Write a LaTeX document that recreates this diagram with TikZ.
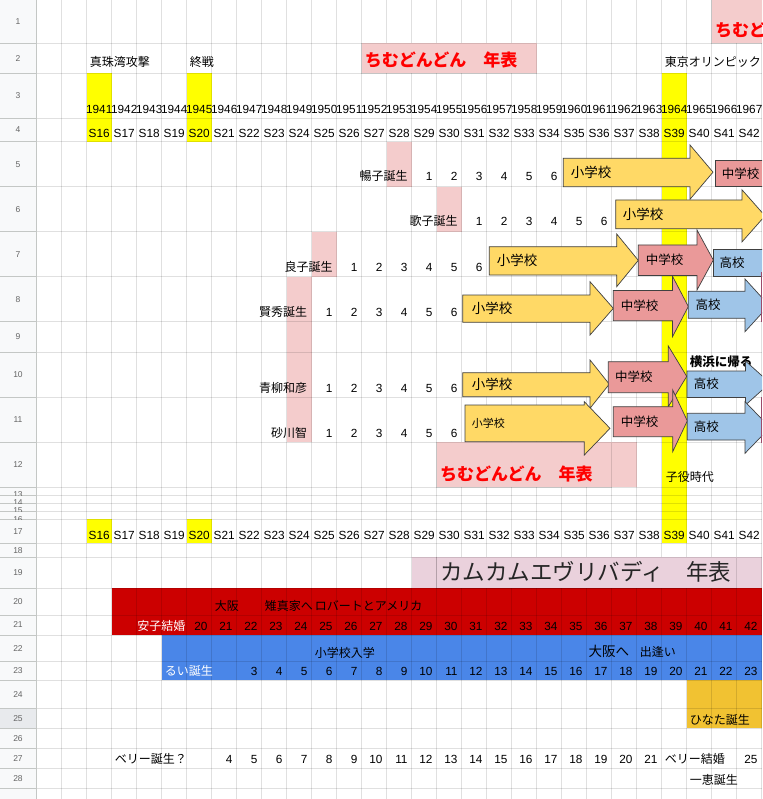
\documentclass[tikz,border=0pt]{standalone}
\usepackage{fontspec}
\setmainfont{Liberation Sans}
\newfontfamily\jp{Noto Sans CJK JP}
\definecolor{hdrbg}{HTML}{F8F9FA}
\definecolor{hdrsel}{HTML}{E8EAED}
\definecolor{hdrline}{HTML}{C4C7C5}
\definecolor{hdrtxt}{HTML}{666666}
\definecolor{yel}{HTML}{FFFF00}
\definecolor{pinkc}{HTML}{F4CCCC}
\definecolor{redt}{HTML}{FF0000}
\definecolor{ayel}{HTML}{FFD966}
\definecolor{apink}{HTML}{EA9999}
\definecolor{ablue}{HTML}{9FC5E8}
\definecolor{mauve}{HTML}{EAD1DC}
\definecolor{redband}{HTML}{CC0000}
\definecolor{blueband}{HTML}{4A86E8}
\definecolor{gold}{HTML}{F1C232}
\definecolor{aborder}{HTML}{404040}
\definecolor{edgec}{HTML}{9C4A6A}
\definecolor{bigtxt}{HTML}{262626}
\newcommand\yx[1]{(86.7+25*((#1)-1941))}
\tikzset{
  numtxt/.style={inner sep=0pt, font=\fontsize{11.8}{13}\selectfont},
  jtxt/.style={inner sep=0pt, font=\jp\fontsize{12}{14}\selectfont},
  redtitle/.style={inner sep=0pt, text=redt, font=\jp\bfseries\fontsize{17}{19}\selectfont},
  gridl/.style={draw=black, draw opacity=0.12, line width=0.8pt},
  arrowline/.style={draw=aborder, line width=0.7pt, line join=miter},
  arrtxt/.style={inner sep=0pt, anchor=west, font=\jp\fontsize{12.5}{14}\selectfont},
  arrtxtb/.style={inner sep=0pt, anchor=west, font=\jp\fontsize{13.5}{15}\selectfont},
}
\newcommand\cellR[3]{\node[numtxt, anchor=base east] at ({\yx{#1}+21},#2) {#3};}
\newcommand\cellC[3]{\node[numtxt, anchor=base] at ({\yx{#1}+12.5},#2) {#3};}
% x0, head base, tip, body top, body bottom, head top, head bottom, colour
\newcommand\sarrow[8]{\path[arrowline, fill=#8] (#1,#4) -- (#2,#4) -- (#2,#6) -- (#3,{(#6+#7)/2}) -- (#2,#7) -- (#2,#5) -- (#1,#5) -- cycle;}
\begin{document}
\begin{tikzpicture}[x=1pt,y=-1pt]
\useasboundingbox (0,0) rectangle (762,799);
\clip (0,0) rectangle (762,799);
\fill[white] (0,0) rectangle (762,799);
% ---- cell fills
\fill[yel] ({\yx{1941}},73.3) rectangle ({\yx{1941}+25},141.7);
\fill[yel] ({\yx{1945}},73.3) rectangle ({\yx{1945}+25},141.7);
\fill[yel] ({\yx{1964}},73.3) rectangle ({\yx{1964}+25},543.3);
\fill[yel] ({\yx{1941}},519.3) rectangle ({\yx{1941}+25},543.3);
\fill[yel] ({\yx{1945}},519.3) rectangle ({\yx{1945}+25},543.3);
\fill[pinkc] ({\yx{1953}},141.7) rectangle ({\yx{1953}+25},186.7);
\fill[pinkc] ({\yx{1955}},186.7) rectangle ({\yx{1955}+25},231.7);
\fill[pinkc] ({\yx{1950}},231.7) rectangle ({\yx{1950}+25},276.7);
\fill[pinkc] ({\yx{1949}},276.7) rectangle ({\yx{1949}+25},442.3);
\fill[pinkc] (436.7,442.3) rectangle (636.7,487.3);
\fill[mauve] (411.7,557.3) rectangle (762,588.3);
\fill[redband] (111.7,588.3) rectangle (762,635);
\fill[blueband] (161.7,635) rectangle (762,680);
\fill[gold] (686.7,680) rectangle (762,728.3);
% ---- grid
\foreach \k in {1,...,29} \draw[gridl] ({36.7+25*\k},0) -- ({36.7+25*\k},799);
\foreach \y in {43.3,73.3,118.3,141.7,186.7,231.7,276.7,321.7,352.3,397.3,442.3,487.3,495.5,503.5,511.5,519.3,543.3,557.3,588.3,615,635,661.7,680,708.3,728.3,748.3,768.3,788.3}
  \draw[gridl] (36.5,\y) -- (762,\y);
% ---- merged cells
\path[fill=pinkc, gridl] (711.7,-2) rectangle (800,43.3);
\path[fill=pinkc, gridl] (361.7,43.3) rectangle (536.7,73.3);
\path[fill=pinkc, gridl] (436.7,442.3) rectangle (611.7,487.3);
\path[fill=mauve, gridl] (436.7,557.3) rectangle (736.7,588.3);
% ---- row header
\fill[hdrbg] (0,0) rectangle (36.3,799);
\fill[hdrsel] (0,708.3) rectangle (36.3,728.3);
\foreach \y in {43.3,73.3,118.3,141.7,186.7,231.7,276.7,321.7,352.3,397.3,442.3,487.3,495.5,503.5,511.5,519.3,543.3,557.3,588.3,615,635,661.7,680,708.3,728.3,748.3,768.3,788.3}
  \draw[hdrline, line width=0.8pt] (0,\y) -- (36.3,\y);
\draw[hdrline, line width=0.9pt] (36.3,0) -- (36.3,799);
\foreach \t/\b [count=\i] in {0/43.3,43.3/73.3,73.3/118.3,118.3/141.7,141.7/186.7,186.7/231.7,231.7/276.7,276.7/321.7,321.7/352.3,352.3/397.3,397.3/442.3,442.3/487.3}
  \node[inner sep=0pt, text=hdrtxt, font=\fontsize{8.5}{10}\selectfont] (rh\i) at (18,{(\t+\b)/2}) {\i};
\foreach \t/\b/\i in {487.3/495.5/13,495.5/503.5/14,503.5/511.5/15,511.5/519.3/16}{
  \begin{scope}
    \clip (0,\t) rectangle (36,\b);
    \node[inner sep=0pt, anchor=north, text=hdrtxt, font=\fontsize{8.5}{10}\selectfont] (rh\i) at (18,\t+4.4) {\i};
  \end{scope}
}
\foreach \t/\b [count=\j] in {519.3/543.3,543.3/557.3,557.3/588.3,588.3/615,615/635,635/661.7,661.7/680,680/708.3,708.3/728.3,728.3/748.3,748.3/768.3,768.3/788.3}{
  \pgfmathtruncatemacro\i{\j+16}
  \node[inner sep=0pt, text=hdrtxt, font=\fontsize{8.5}{10}\selectfont] (rh\i) at (18,{(\t+\b)/2}) {\i};
}
% ---- rows 1-4
\node[redtitle, anchor=base west] (t1) at (715,36.5) {ちむどんどん　年表};
\node[jtxt, anchor=base west] (pearl) at (89.7,67) {真珠湾攻撃};
\node[jtxt, anchor=base west] (endwar) at (189.7,67) {終戦};
\node[redtitle, anchor=base west] (t2) at (364.7,66.5) {ちむどんどん　年表};
\node[jtxt, anchor=base west] (tokyo) at (664.7,67) {東京オリンピック};
\foreach \y in {1941,...,1967} {\cellC{\y}{113.3}{\y}}
\foreach \y in {1941,...,1967} {\pgfmathtruncatemacro\s{\y-1925}\cellC{\y}{137.3}{S\s}}
\foreach \y in {1941,...,1967} {\pgfmathtruncatemacro\s{\y-1925}\cellC{\y}{539.5}{S\s}}
% ---- births and ages
\node[jtxt, anchor=base east] (b1) at (407.7,180.5) {暢子誕生};
\foreach \n in {1,...,6} {\cellR{1953+\n}{180.5}{\n}}
\node[jtxt, anchor=base east] (b2) at (457.7,225.8) {歌子誕生};
\foreach \n in {1,...,6} {\cellR{1955+\n}{225.8}{\n}}
\node[jtxt, anchor=base east] (b3) at (332.7,271) {良子誕生};
\foreach \n in {1,...,6} {\cellR{1950+\n}{271}{\n}}
\node[jtxt, anchor=base east] (b4) at (307.2,316.5) {賢秀誕生};
\foreach \n in {1,...,6} {\cellR{1949+\n}{316.5}{\n}}
\node[jtxt, anchor=base east] (b5) at (307.2,392.5) {青柳和彦};
\foreach \n in {1,...,6} {\cellR{1949+\n}{392.5}{\n}}
\node[jtxt, anchor=base east] (b6) at (307.2,437.5) {砂川智};
\foreach \n in {1,...,6} {\cellR{1949+\n}{437.5}{\n}}
\node[inner sep=0pt, anchor=base west, font=\jp\bfseries\fontsize{12.5}{14}\selectfont] (yoko) at (689.7,366) {横浜に帰る};
% ---- row 12
\node[redtitle, anchor=base west] (t3) at (440,480) {ちむどんどん　年表};
\node[jtxt, anchor=base west] (koyaku) at (665.7,481.5) {子役時代};
% ---- row 19-28
\node[inner sep=0pt, anchor=base west, text=bigtxt, font=\jp\fontsize{22.5}{25}\selectfont] (kamu) at (440,580) {カムカムエヴリバディ　年表};
\node[jtxt, anchor=base west] (osaka1) at (214.7,610.5) {大阪};
\node[jtxt, anchor=base west] (kiji) at (264.7,610.5) {雉真家へ};
\node[jtxt, anchor=base west] (robert) at (314.7,610.5) {ロバートとアメリカ};
\node[jtxt, anchor=base east, text=white] (yasu) at (185.5,630) {安子結婚};
\foreach \y in {1945,...,1967} {\pgfmathtruncatemacro\a{\y-1925}\cellR{\y}{630}{\a}}
\node[jtxt, anchor=base west] (shonyu) at (314.7,657.5) {小学校入学};
\node[inner sep=0pt, anchor=base west, font=\jp\fontsize{13.5}{15}\selectfont] (osaka2) at (588.3,656.5) {大阪へ};
\node[jtxt, anchor=base west] (deai) at (639.7,656.5) {出逢い};
\node[jtxt, anchor=base west, text=white] (rui) at (164.7,675.5) {るい誕生};
\foreach \y in {1947,...,1967} {\pgfmathtruncatemacro\a{\y-1944}\cellR{\y}{675.5}{\a}}
\node[jtxt, anchor=base west] (hinata) at (689.7,724) {ひなた誕生};
\node[jtxt, anchor=base west] (berry) at (114.7,763.5) {ベリー誕生？};
\foreach \y in {1946,...,1963} {\pgfmathtruncatemacro\a{\y-1942}\cellR{\y}{763.5}{\a}}
\node[jtxt, anchor=base west] (berry2) at (664.7,763.5) {ベリー結婚};
\cellR{1967}{763.5}{25}
\node[jtxt, anchor=base west] (kazue) at (689.7,784) {一恵誕生};
% ---- arrows
\sarrow{563.3}{690}{713}{158.3}{186.7}{145}{199.3}{ayel}
\node[arrtxtb] (a1) at (570.7,172.5) {小学校};
\path[arrowline, fill=apink] (715,160.7) rectangle (800,186.7);
\node[arrtxt] (a2) at (721.7,173.7) {中学校};
\sarrow{615.7}{742}{765}{200}{228.8}{189.8}{241.9}{ayel}
\node[arrtxtb] (a3) at (622.7,214.4) {小学校};
\sarrow{489.3}{616.7}{638.3}{246.7}{275}{234}{286.7}{ayel}
\node[arrtxtb] (a4) at (496.7,260.8) {小学校};
\sarrow{638.3}{697}{713.3}{245}{275.5}{230}{290}{apink}
\node[arrtxt] (a5) at (645.7,260.2) {中学校};
\path[arrowline, fill=ablue] (713.3,249.3) rectangle (800,276.5);
\node[arrtxt] (a6) at (719.3,262.9) {高校};
\sarrow{462.7}{590}{613.3}{295}{322.3}{281.7}{335}{ayel}
\node[arrtxtb] (a7) at (471.7,308.6) {小学校};
\sarrow{613.3}{672.5}{688.3}{290.5}{320.7}{276.3}{336.7}{apink}
\node[arrtxt] (a8) at (620.7,305.6) {中学校};
\sarrow{688.3}{745}{769}{291.2}{318.3}{279}{331.7}{ablue}
\node[arrtxt] (a9) at (695.3,304.7) {高校};
\sarrow{462.7}{590}{609.3}{372.7}{396.7}{360}{408.3}{ayel}
\node[arrtxtb] (a10) at (471.7,384.7) {小学校};
\sarrow{608.3}{668.3}{686.7}{361.7}{392.7}{346}{406.7}{apink}
\node[arrtxt] (a11) at (615,377.2) {中学校};
\sarrow{687}{745.5}{770}{371}{397.5}{361}{405}{ablue}
\node[arrtxt] (a12) at (693.7,384.2) {高校};
\sarrow{465}{584.3}{610}{405}{441.7}{401.7}{455}{ayel}
\node[inner sep=0pt, anchor=west, font=\jp\fontsize{11}{13}\selectfont] (a13) at (471.7,423.3) {小学校};
\sarrow{613.3}{672.7}{687.3}{406.7}{436.7}{390}{451.7}{apink}
\node[arrtxt] (a14) at (620.7,421.7) {中学校};
\sarrow{687.3}{745}{770}{413.3}{440}{401.7}{453.3}{ablue}
\node[arrtxt] (a15) at (693.7,426.6) {高校};
% ---- right edge slivers
\fill[edgec] (760.6,272) rectangle (762,321.7);
\fill[edgec] (760.6,397.3) rectangle (762,443);
\end{tikzpicture}
\end{document}
